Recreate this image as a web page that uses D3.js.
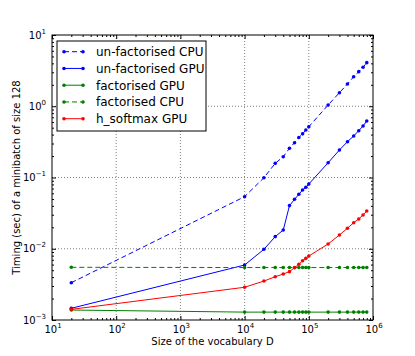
<!DOCTYPE html>
<html>
<head>
<meta charset="utf-8">
<script src="https://cdn.jsdelivr.net/npm/d3@7"></script>
<style>
  body { margin: 0; background: #fff; }
  text { font-family: "DejaVu Sans", sans-serif; }
</style>
</head>
<body>
<div id="chart"></div>
<script>
// Timings of the softmax variants against the vocabulary size (log-log)

// vocabulary sizes, shared by every series
var vocab = [20, 1e4, 2e4, 3e4, 4e4, 5e4, 6e4, 7e4, 8e4, 9e4, 1e5,
             2e5, 3e5, 4e5, 5e5, 6e5, 7e5, 8e5];

// timings (seconds)
var unfactCPU = [0.00334, 0.0538, 0.0993, 0.158, 0.196, 0.257, 0.308, 0.364, 0.410, 0.464, 0.516,
                 1.04, 1.55, 2.05, 2.60, 3.06, 3.52, 4.09];
var unfactGPU = [0.00146, 0.00591, 0.00982, 0.0148, 0.0183, 0.0403, 0.0494, 0.0581, 0.0668, 0.0728, 0.0810,
                 0.161, 0.243, 0.318, 0.382, 0.454, 0.528, 0.621];
var factGPU = [0.00138, 0.00129, 0.00129, 0.00129, 0.00129, 0.00129, 0.00129, 0.00129, 0.00129, 0.00129, 0.00129,
               0.00129, 0.00129, 0.00129, 0.00129, 0.00129, 0.00129, 0.00129];
var factCPU = [0.00549, 0.00545, 0.00545, 0.00545, 0.00545, 0.00545, 0.00545, 0.00545, 0.00545, 0.00545, 0.00545,
               0.00545, 0.00545, 0.00545, 0.00545, 0.00545, 0.00545, 0.00545];
var hsoftGPU = [0.00141, 0.00288, 0.00352, 0.00405, 0.00442, 0.00477, 0.00542, 0.00605, 0.00680, 0.00733, 0.0079,
                0.01166, 0.0156, 0.0194, 0.0232, 0.0262, 0.0298, 0.0339];

var seriesNames = ["un-factorised CPU", "un-factorised GPU", "factorised GPU", "factorised CPU", "h_softmax GPU"];
var seriesValues = [unfactCPU, unfactGPU, factGPU, factCPU, hsoftGPU];
var seriesColors = ["#0000ff", "#0000ff", "#008000", "#008000", "#ff0000"];
var seriesDashed = [true, false, false, true, false];

var xDomain = [10, 1e6];
var yDomain = [1e-3, 10];

var svgWidth = 415;
var svgHeight = 356;
var margin = { top: 35, right: 42, bottom: 36, left: 52 };
var width = svgWidth - margin.left - margin.right;
var height = svgHeight - margin.top - margin.bottom;

var svg = d3.select("#chart")
    .append("svg")
    .attr("width", svgWidth)
    .attr("height", svgHeight);

var chartGroup = svg.append("g")
    .attr("transform", `translate(${margin.left}, ${margin.top})`);

var xScale = d3.scaleLog().domain(xDomain).range([0, width]);
var yScale = d3.scaleLog().domain(yDomain).range([height, 0]);

function isPow10(v) {
    var l = Math.log10(v);
    return Math.abs(l - Math.round(l)) < 1e-9;
}
var xMajor = xScale.ticks().filter(isPow10);
var xMinor = xScale.ticks().filter(d => !isPow10(d));
var yMajor = yScale.ticks().filter(isPow10);
var yMinor = yScale.ticks().filter(d => !isPow10(d));

// dotted grid at the decades
chartGroup.append("g").selectAll("line")
    .data(xMajor.slice(1, -1))
    .enter().append("line")
    .attr("x1", d => xScale(d)).attr("x2", d => xScale(d))
    .attr("y1", 0).attr("y2", height)
    .attr("stroke", "#808080").attr("stroke-dasharray", "1,2");
chartGroup.append("g").selectAll("line")
    .data(yMajor.slice(1, -1))
    .enter().append("line")
    .attr("y1", d => yScale(d)).attr("y2", d => yScale(d))
    .attr("x1", 0).attr("x2", width)
    .attr("stroke", "#808080").attr("stroke-dasharray", "1,2");

// ticks pointing inwards on all four sides
function tickAxis(axis, transform) {
    var g = chartGroup.append("g").attr("transform", transform).call(axis);
    g.select(".domain").remove();
    return g;
}
tickAxis(d3.axisBottom(xScale).tickValues(xMajor).tickSize(-4).tickFormat(""), `translate(0, ${height})`);
tickAxis(d3.axisBottom(xScale).tickValues(xMinor).tickSize(-2).tickFormat(""), `translate(0, ${height})`);
tickAxis(d3.axisTop(xScale).tickValues(xMajor).tickSize(-4).tickFormat(""), "translate(0, 0)");
tickAxis(d3.axisTop(xScale).tickValues(xMinor).tickSize(-2).tickFormat(""), "translate(0, 0)");
tickAxis(d3.axisLeft(yScale).tickValues(yMajor).tickSize(-4).tickFormat(""), "translate(0, 0)");
tickAxis(d3.axisLeft(yScale).tickValues(yMinor).tickSize(-2).tickFormat(""), "translate(0, 0)");
tickAxis(d3.axisRight(yScale).tickValues(yMajor).tickSize(-4).tickFormat(""), `translate(${width}, 0)`);
tickAxis(d3.axisRight(yScale).tickValues(yMinor).tickSize(-2).tickFormat(""), `translate(${width}, 0)`);

// 10^n labels
function powLabel(sel) {
    sel.each(function (d) {
        var t = d3.select(this);
        var e = Math.round(Math.log10(d));
        t.append("tspan").text("10");
        t.append("tspan").attr("dy", -5).attr("font-size", 7)
            .text(e < 0 ? "\u2212" + (-e) : String(e));
    });
}
chartGroup.append("g").selectAll("text")
    .data(xMajor)
    .enter().append("text")
    .attr("x", d => xScale(d) + 1)
    .attr("y", height + 12.5)
    .attr("text-anchor", "middle")
    .attr("font-size", 10)
    .call(powLabel);
chartGroup.append("g").selectAll("text")
    .data(yMajor)
    .enter().append("text")
    .attr("x", -6)
    .attr("y", d => yScale(d) + 3.5)
    .attr("text-anchor", "end")
    .attr("font-size", 10)
    .call(powLabel);

// frame
chartGroup.append("rect")
    .attr("width", width).attr("height", height)
    .attr("fill", "none").attr("stroke", "#000");

// the series
var line = d3.line()
    .x((d, i) => xScale(vocab[i]))
    .y(d => yScale(d));

seriesValues.forEach(function (vals, k) {
    chartGroup.append("path")
        .datum(vals)
        .attr("d", line)
        .attr("fill", "none")
        .attr("stroke", seriesColors[k])
        .attr("stroke-width", 1)
        .attr("stroke-dasharray", seriesDashed[k] ? "5,3" : null);
    chartGroup.append("g").selectAll("circle")
        .data(vals)
        .enter().append("circle")
        .attr("cx", (d, i) => xScale(vocab[i]))
        .attr("cy", d => yScale(d))
        .attr("r", 1.8)
        .attr("fill", seriesColors[k]);
});

// legend
var legend = chartGroup.append("g").attr("transform", "translate(5, 6)");
legend.append("rect")
    .attr("width", 149).attr("height", 90)
    .attr("fill", "#fff").attr("stroke", "#000");
var rows = legend.selectAll("g.row")
    .data(seriesNames)
    .enter().append("g")
    .attr("class", "row")
    .attr("transform", (d, i) => `translate(0, ${10.7 + i * 16.75})`);
rows.append("line")
    .attr("x1", 7).attr("x2", 26)
    .attr("stroke", (d, i) => seriesColors[i])
    .attr("stroke-dasharray", (d, i) => seriesDashed[i] ? "5,3" : null);
rows.append("circle").attr("cx", 7).attr("r", 1.8).attr("fill", (d, i) => seriesColors[i]);
rows.append("circle").attr("cx", 26).attr("r", 1.8).attr("fill", (d, i) => seriesColors[i]);
rows.append("text")
    .attr("x", 39).attr("y", 4.3)
    .attr("font-size", 12)
    .text(d => d);

// axis labels
svg.append("text")
    .attr("x", margin.left + width / 2)
    .attr("y", 345)
    .attr("text-anchor", "middle")
    .attr("font-size", 10)
    .text("Size of the vocabulary D");

svg.append("text")
    .attr("transform", `translate(20, ${margin.top + height / 2}) rotate(-90)`)
    .attr("text-anchor", "middle")
    .attr("font-size", 10)
    .text("Timing (sec) of a minibatch of size 128");
</script>
</body>
</html>
